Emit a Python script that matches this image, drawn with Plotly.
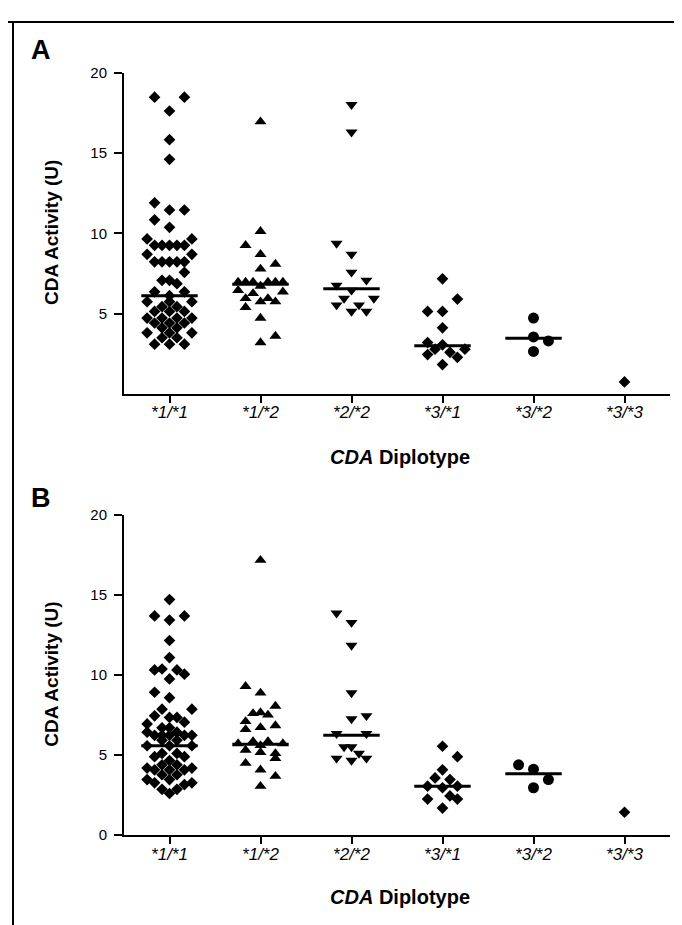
import plotly.graph_objects as go

# ---------------- data ----------------
genotypes = ["*1/*1", "*1/*2", "*2/*2", "*3/*1", "*3/*2", "*3/*3"]
symbols = ["diamond", "triangle-up", "triangle-down", "diamond", "circle", "diamond"]

# Panel A values (CDA activity, U) and jitter column slot of each point
a_11_vals = [18.49, 18.49, 17.63, 15.84, 14.62, 11.91, 11.46, 11.46, 10.85, 10.38,
             9.66, 9.66, 9.26, 9.26, 9.26, 9.26, 9.26, 8.70, 8.70,
             8.23, 8.23, 8.23, 8.23, 8.23, 7.58, 7.08, 7.08, 6.87, 6.36, 6.36, 6.12,
             5.75, 5.75, 5.75, 5.44, 5.44, 5.14, 5.14, 5.14,
             4.73, 4.73, 4.73, 4.73, 4.42, 4.42, 4.42, 4.12, 4.12,
             3.81, 3.81, 3.81, 3.50, 3.50, 3.10, 3.10, 3.10]
a_11_slots = [-2, 2, 0, 0, 0, -2, 0, 2, -2, 0,
              -3, 3, -2, -1, 0, 1, 2, -3, 3,
              -2, -1, 0, 1, 2, 2, -1, 0, 1, -2, 2, 0,
              -3, 0, 3, -1, 1, -2, 0, 2,
              -3, -1, 1, 3, -2, 0, 2, -1, 1,
              -3, 0, 3, -1, 1, -2, 0, 2]

a_12_vals = [16.96, 10.13, 9.26, 8.70, 8.09, 7.79,
             6.97, 6.97, 6.97, 6.97, 6.97, 6.97, 6.72, 6.46, 6.36, 6.26,
             5.95, 5.95, 5.75, 5.75, 5.40, 4.73, 3.61, 3.20]
a_12_slots = [0, 0, -2, 0, 2, 0,
              -3, -2, -1, 1, 2, 3, 0, -3, 3, -1,
              -2, 1, 0, 2, -2, 0, 2, 0]

a_22_vals = [18.02, 16.31, 9.38, 8.70, 7.58, 7.08, 6.77, 6.46, 5.95, 5.95, 5.54, 5.54, 5.14, 5.14]
a_22_slots = [0, 0, -2, 0, 0, 2, -2, 0, -1, 3, -2, 1, 0, 2]

a_31_vals = [7.17, 5.91, 5.14, 5.14, 4.12, 3.20, 3.06, 2.79, 2.79, 2.59, 2.45, 2.28, 1.83]
a_31_slots = [0, 2, -2, 0, 0, -2, 0, -1, 3, 1, -2, 2, 0]

a_32_vals = [4.73, 3.55, 3.30, 2.65]
a_32_slots = [0, 0, 2, 0]

a_33_vals = [0.75]
a_33_slots = [0]

a_medians = [6.12, 6.83, 6.56, 3.00, 3.47]

# Panel B
b_11_vals = [14.70, 13.68, 13.68, 13.42, 12.15, 11.08, 10.31, 10.37, 10.31, 10.05, 9.75,
             8.92, 8.58, 7.86, 7.86, 7.45, 7.35, 7.35, 7.05, 6.94, 6.70, 6.70,
             6.43, 6.43, 6.23, 6.23, 6.23, 6.23, 6.23, 5.92, 5.92, 5.58, 5.58, 5.58,
             5.10, 5.10, 4.90, 4.90, 4.66, 4.39, 4.39, 4.19, 4.19, 4.08, 4.08, 4.08,
             3.77, 3.77, 3.47, 3.47, 3.27, 3.27, 3.16, 2.86, 2.86, 2.60]
b_11_slots = [0, -2, 2, 0, 0, 0, -2, -1, 1, 2, 0,
              -2, 0, -1, 3, -2, 0, 1, 2, -3, -1, 0,
              -3, 1, -2, -1, 0, 2, 3, -1, 1, -3, 0, 3,
              -1, 1, -2, 2, 0, -1, 1, -3, 3, -2, 0, 2,
              -1, 1, -3, 0, -2, 3, 2, -1, 1, 0]

b_12_vals = [17.16, 9.29, 8.88, 8.06, 7.60, 7.65, 7.50, 7.10, 6.84, 6.72, 6.60,
             5.85, 5.85, 5.72, 5.72, 5.60, 5.31, 5.17, 5.10, 4.80, 4.49, 4.08, 3.68, 3.06]
b_12_slots = [0, -2, 0, 2, -1, 0, 1, -2, 2, 0, -2,
              -1, 1, -3, 3, 0, -2, 0, 2, 2, -2, 0, 2, 0]

b_22_vals = [13.85, 13.27, 11.84, 8.88, 7.45, 7.25, 6.33, 6.33, 5.51, 5.51, 5.10, 4.80, 4.80, 4.66]
b_22_slots = [-2, 0, 0, 0, 2, 0, -2, 2, -1, 0, 1, -2, 2, 0]

b_31_vals = [5.55, 4.90, 4.08, 3.57, 3.47, 3.06, 2.96, 3.06, 2.45, 2.25, 2.25, 1.69]
b_31_slots = [0, 2, 0, -1, 1, -2, 0, 2, 1, -2, 2, 0]

b_32_vals = [4.39, 4.12, 3.47, 2.96]
b_32_slots = [-2, 0, 2, 0]

b_33_vals = [1.43]
b_33_slots = [0]

b_medians = [5.58, 5.68, 6.23, 3.06, 3.84]

a_ticks = [5, 10, 15, 20]
b_ticks = [0, 5, 10, 15, 20]

# ---------------- styling ----------------
W, H = 682, 925
SLOT = 0.082          # horizontal jitter step (category units)
HALF = 0.31           # half width of the median bar
FONT = "Liberation Sans Narrow, Arial Narrow, Liberation Sans, Arial, sans-serif"
sizes = {"diamond": 9, "triangle-up": 10.5, "triangle-down": 10.5, "circle": 11}

panels = [
    ("x", "y", [a_11_vals, a_12_vals, a_22_vals, a_31_vals, a_32_vals, a_33_vals],
     [a_11_slots, a_12_slots, a_22_slots, a_31_slots, a_32_slots, a_33_slots], a_medians),
    ("x2", "y2", [b_11_vals, b_12_vals, b_22_vals, b_31_vals, b_32_vals, b_33_vals],
     [b_11_slots, b_12_slots, b_22_slots, b_31_slots, b_32_slots, b_33_slots], b_medians),
]

fig = go.Figure()
for xa, ya, vals_list, slots_list, meds in panels:
    for gi, (vals, slots) in enumerate(zip(vals_list, slots_list)):
        sym = symbols[gi]
        fig.add_trace(go.Scatter(
            x=[gi + s * SLOT for s in slots], y=vals, mode="markers",
            xaxis=xa, yaxis=ya, showlegend=False, hoverinfo="skip",
            marker=dict(symbol=sym, size=sizes[sym], color="black", line=dict(width=0)),
        ))
    for gi, m in enumerate(meds):
        fig.add_trace(go.Scatter(
            x=[gi - HALF, gi + HALF], y=[m, m], mode="lines",
            xaxis=xa, yaxis=ya, showlegend=False, hoverinfo="skip",
            line=dict(color="black", width=3),
        ))

ticktext = ["<i>%s</i>" % g for g in genotypes]
xcommon = dict(range=[-0.5, 5.5], tickmode="array", tickvals=list(range(6)), ticktext=ticktext,
               showline=True, linecolor="black", linewidth=2, ticks="outside", ticklen=7,
               tickwidth=1.5, tickcolor="black", showgrid=False, zeroline=False,
               tickfont=dict(family=FONT, size=17, color="black"), ticklabelstandoff=-5)
ycommon = dict(range=[0, 20], showline=True, linecolor="black", linewidth=2,
               ticks="outside", ticklen=8, tickwidth=2, tickcolor="black", showgrid=False,
               zeroline=False, tickfont=dict(family="Liberation Sans, Arial, sans-serif", size=15, color="black"),
               ticklabelstandoff=4)

x0, x1 = 116 / W, 662 / W
fig.update_layout(
    width=W, height=H, margin=dict(l=0, r=0, t=0, b=0),
    paper_bgcolor="white", plot_bgcolor="white",
    xaxis=dict(domain=[x0, x1], anchor="y", **xcommon),
    yaxis=dict(domain=[1 - 384 / H, 1 - 57 / H], anchor="x", tickvals=a_ticks, **ycommon),
    xaxis2=dict(domain=[x0, x1], anchor="y2", **xcommon),
    yaxis2=dict(domain=[1 - 833.5 / H, 1 - 507 / H], anchor="x2", tickvals=b_ticks, **ycommon),
)

def ann(text, px, py, size, angle=0):
    fig.add_annotation(text=text, x=px / W, y=1 - py / H, xref="paper", yref="paper",
                       showarrow=False, textangle=angle, xanchor="center", yanchor="middle",
                       font=dict(family=FONT, size=size, color="black"))

ann("<b>A</b>", 33, 34, 27)
ann("<b>B</b>", 33, 490, 27)
ann("<b>CDA Activity (U)</b>", 44, 220, 19, angle=-90)
ann("<b>CDA Activity (U)</b>", 44, 670, 19, angle=-90)
ann("<b><i>CDA</i> Diplotype</b>", 392, 448, 20)
ann("<b><i>CDA</i> Diplotype</b>", 392, 896, 20)

# frame lines (top and left border of the figure)
fig.add_shape(type="line", xref="paper", yref="paper", x0=0, x1=1, y0=1 - 5 / H, y1=1 - 5 / H,
              line=dict(color="black", width=2))
fig.add_shape(type="line", xref="paper", yref="paper", x0=5 / W, x1=5 / W, y0=0, y1=1 - 5 / H,
              line=dict(color="black", width=2))

fig.write_html("out.html")
